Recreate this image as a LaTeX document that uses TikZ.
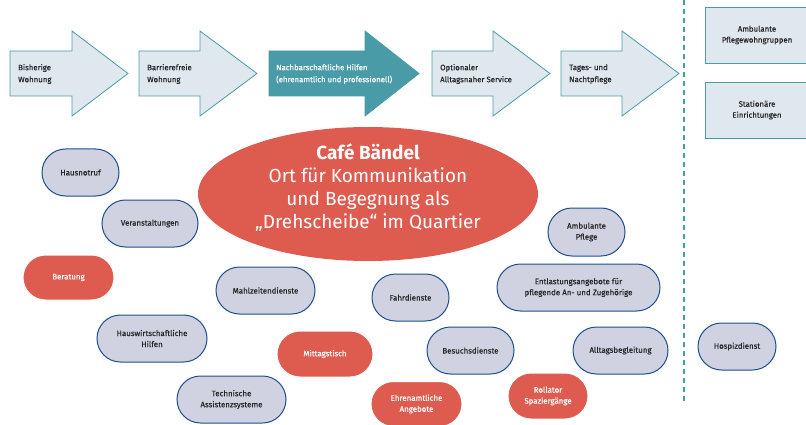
\documentclass[tikz,border=0pt]{standalone}
\usepackage{fontspec}
\setmainfont{Fira Sans}
\newfontfamily\medfont{Fira Sans}[FakeBold=0.5]
\usetikzlibrary{shapes.misc, shapes.geometric}

\definecolor{petrol}{HTML}{4A9BA8}
\definecolor{lightpetrol}{HTML}{DFE8EE}
\definecolor{cafered}{HTML}{DE5B50}
\definecolor{pillfill}{HTML}{D0D2E1}
\definecolor{pillborder}{HTML}{1F4F8A}

\tikzset{
    flowbody/.style={draw=petrol, fill=lightpetrol, line width=0.8pt},
    flowfull/.style={draw=petrol, fill=petrol, line width=0.8pt},
    flowtext/.style={font=\medfont\fontsize{7.8}{12}\selectfont, align=left, anchor=west, text=black!85, inner sep=0pt},
    sidebox/.style={draw=petrol, fill=lightpetrol, line width=0.8pt, minimum width=104pt, minimum height=56pt,
        font=\medfont\fontsize{7.8}{11}\selectfont, align=center, text=black!85, inner sep=0pt},
    pill/.style={rounded rectangle, draw=pillborder, fill=pillfill, line width=1pt, minimum height=47pt,
        font=\medfont\fontsize{7.9}{11}\selectfont, align=center, text=black!85, inner sep=0pt},
    redpill/.style={pill, draw=white, fill=cafered, text=white},
}

% body from #1 to #2, tip at #3
\newcommand{\flowshape}[4]{%
    \draw [#4] (#1,-51) -- (#2,-51) -- (#2,-31) -- (#3,-73.5) -- (#2,-116) -- (#2,-96) -- (#1,-96) -- cycle;
}

\begin{document}
\begin{tikzpicture}[x=1pt, y=1pt]
    \useasboundingbox (0,0) rectangle (806,-425);

    % Pfeile
    \flowshape{10}{72}{128}{flowbody}
    \flowshape{139}{200}{257}{flowbody}
    \flowshape{269}{365}{419}{flowfull}
    \flowshape{432}{493}{550}{flowbody}
    \flowshape{561}{622}{679}{flowbody}
    \draw
        node [flowtext] (bisherige) at (18, -74) {Bisherige\\Wohnung}
        node [flowtext] (barrierefrei) at (147, -74) {Barrierefreie\\Wohnung}
        node [flowtext, text=white] (nachbarschaft) at (276, -74) {Nachbarschaftliche Hilfen\\(ehrenamtlich und professionell)}
        node [flowtext] (optional) at (440, -74) {Optionaler\\Alltagsnaher Service}
        node [flowtext] (tagespflege) at (569, -74) {Tages- und\\Nachtpflege}
    ;

    % Trennlinie und stationaer
    \draw [petrol, line width=1.5pt, dash pattern=on 5pt off 4pt] (684, 0) --++ (0, -402);
    \node [sidebox] (wohngruppen) at (757, -35) {Ambulante\\Pflegewohngruppen};
    \node [sidebox] (stationaer) at (757, -110) {Stationäre\\Einrichtungen};

    % Cafe
    \node [ellipse, fill=cafered, minimum width=340pt, minimum height=134pt] (cafe) at (368, -194) {};
    \node [font=\fontsize{19}{23}\selectfont, text=white, align=center] (cafetext) at (368, -188)
        {\textbf{Café Bändel}\\Ort für Kommunikation\\und Begegnung als\\„Drehscheibe“ im Quartier};

    % Angebote
    \node [pill, minimum width=77pt] (hausnotruf) at (80.5, -172.5) {Hausnotruf};
    \node [pill, minimum width=96pt] (veranstaltungen) at (150, -223.5) {Veranstaltungen};
    \node [redpill, minimum width=91pt, minimum height=45pt] (beratung) at (68.5, -277.5) {Beratung};
    \node [pill, minimum width=99pt] (mahlzeiten) at (265.5, -290.5) {Mahlzeitendienste};
    \node [pill, minimum width=77pt] (fahrdienste) at (410.5, -297.5) {Fahrdienste};
    \node [pill, minimum width=110pt] (hauswirtschaft) at (152, -338.5) {Hauswirtschaftliche\\Hilfen};
    \node [redpill, minimum width=96pt, minimum height=46pt] (mittagstisch) at (325, -354) {Mittagstisch};
    \node [pill, minimum width=109pt] (technik) at (231.5, -399.5) {Technische\\Assistenzsysteme};
    \node [redpill, minimum width=91pt, minimum height=45pt] (ehrenamt) at (416.5, -404) {Ehrenamtliche\\Angebote};
    \node [pill, minimum width=77pt, minimum height=48pt] (ambulant) at (586.5, -232) {Ambulante\\Pflege};
    \node [pill, minimum width=163pt] (entlastung) at (578.5, -287.5) {Entlastungsangebote für\\pflegende\ An- und Zugehörige};
    \node [pill, minimum width=87pt] (besuch) at (470.5, -350.5) {Besuchsdienste};
    \node [pill, minimum width=95pt] (alltag) at (620.5, -350.5) {Alltagsbegleitung};
    \node [redpill, minimum width=80pt, minimum height=46pt] (rollator) at (548, -396) {Rollator\\Spaziergänge};
    \node [pill, minimum width=78pt] (hospiz) at (737, -346.5) {Hospizdienst};
\end{tikzpicture}
\end{document}
